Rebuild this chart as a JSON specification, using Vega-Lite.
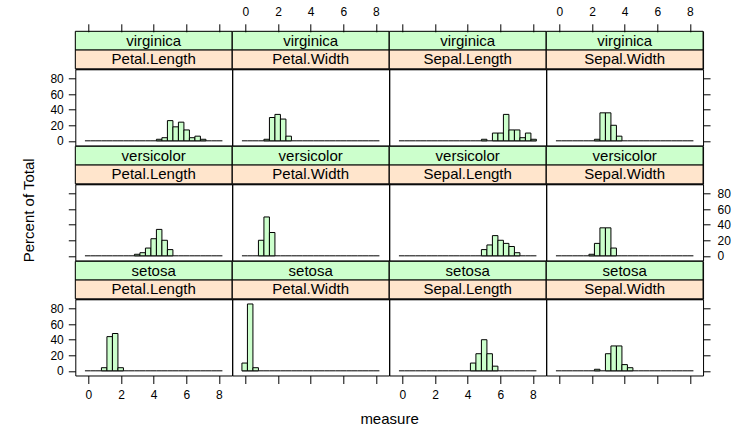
{
"$schema": "https://vega.github.io/schema/vega-lite/v6.json",
"autosize": {"type": "none"},
"padding": {"left": 75.3, "top": 31.3, "right": 664.7, "bottom": 395.7},
"background": "white",
"datasets": {
"panels": [
{"species":"virginica","measure":"Petal.Length"},{"species":"virginica","measure":"Petal.Width"},{"species":"virginica","measure":"Sepal.Length"},{"species":"virginica","measure":"Sepal.Width"},
{"species":"versicolor","measure":"Petal.Length"},{"species":"versicolor","measure":"Petal.Width"},{"species":"versicolor","measure":"Sepal.Length"},{"species":"versicolor","measure":"Sepal.Width"},
{"species":"setosa","measure":"Petal.Length"},{"species":"setosa","measure":"Petal.Width"},{"species":"setosa","measure":"Sepal.Length"},{"species":"setosa","measure":"Sepal.Width"}
],
"bins": [
{"lo":-0.212,"hi":0.125},{"lo":0.125,"hi":0.462},{"lo":0.462,"hi":0.799},{"lo":0.799,"hi":1.136},{"lo":1.136,"hi":1.473},
{"lo":1.473,"hi":1.81},{"lo":1.81,"hi":2.147},{"lo":2.147,"hi":2.484},{"lo":2.484,"hi":2.821},{"lo":2.821,"hi":3.158},
{"lo":3.158,"hi":3.495},{"lo":3.495,"hi":3.832},{"lo":3.832,"hi":4.168},{"lo":4.168,"hi":4.505},{"lo":4.505,"hi":4.842},
{"lo":4.842,"hi":5.179},{"lo":5.179,"hi":5.516},{"lo":5.516,"hi":5.853},{"lo":5.853,"hi":6.19},{"lo":6.19,"hi":6.527},
{"lo":6.527,"hi":6.864},{"lo":6.864,"hi":7.201},{"lo":7.201,"hi":7.538},{"lo":7.538,"hi":7.875},{"lo":7.875,"hi":8.212}
],
"hist": [
{"species":"setosa","measure":"Petal.Length","lo":0.799,"hi":1.136,"pct":4},
{"species":"setosa","measure":"Petal.Length","lo":1.136,"hi":1.473,"pct":44},
{"species":"setosa","measure":"Petal.Length","lo":1.473,"hi":1.81,"pct":48},
{"species":"setosa","measure":"Petal.Length","lo":1.81,"hi":2.147,"pct":4},
{"species":"setosa","measure":"Petal.Width","lo":-0.212,"hi":0.125,"pct":10},
{"species":"setosa","measure":"Petal.Width","lo":0.125,"hi":0.462,"pct":86},
{"species":"setosa","measure":"Petal.Width","lo":0.462,"hi":0.799,"pct":4},
{"species":"setosa","measure":"Sepal.Length","lo":4.168,"hi":4.505,"pct":10},
{"species":"setosa","measure":"Sepal.Length","lo":4.505,"hi":4.842,"pct":22},
{"species":"setosa","measure":"Sepal.Length","lo":4.842,"hi":5.179,"pct":40},
{"species":"setosa","measure":"Sepal.Length","lo":5.179,"hi":5.516,"pct":22},
{"species":"setosa","measure":"Sepal.Length","lo":5.516,"hi":5.853,"pct":6},
{"species":"setosa","measure":"Sepal.Width","lo":2.147,"hi":2.484,"pct":2},
{"species":"setosa","measure":"Sepal.Width","lo":2.821,"hi":3.158,"pct":22},
{"species":"setosa","measure":"Sepal.Width","lo":3.158,"hi":3.495,"pct":32},
{"species":"setosa","measure":"Sepal.Width","lo":3.495,"hi":3.832,"pct":32},
{"species":"setosa","measure":"Sepal.Width","lo":3.832,"hi":4.168,"pct":8},
{"species":"setosa","measure":"Sepal.Width","lo":4.168,"hi":4.505,"pct":4},
{"species":"versicolor","measure":"Petal.Length","lo":2.821,"hi":3.158,"pct":2},
{"species":"versicolor","measure":"Petal.Length","lo":3.158,"hi":3.495,"pct":4},
{"species":"versicolor","measure":"Petal.Length","lo":3.495,"hi":3.832,"pct":10},
{"species":"versicolor","measure":"Petal.Length","lo":3.832,"hi":4.168,"pct":22},
{"species":"versicolor","measure":"Petal.Length","lo":4.168,"hi":4.505,"pct":34},
{"species":"versicolor","measure":"Petal.Length","lo":4.505,"hi":4.842,"pct":20},
{"species":"versicolor","measure":"Petal.Length","lo":4.842,"hi":5.179,"pct":8},
{"species":"versicolor","measure":"Petal.Width","lo":0.799,"hi":1.136,"pct":20},
{"species":"versicolor","measure":"Petal.Width","lo":1.136,"hi":1.473,"pct":50},
{"species":"versicolor","measure":"Petal.Width","lo":1.473,"hi":1.81,"pct":30},
{"species":"versicolor","measure":"Sepal.Length","lo":4.842,"hi":5.179,"pct":8},
{"species":"versicolor","measure":"Sepal.Length","lo":5.179,"hi":5.516,"pct":14},
{"species":"versicolor","measure":"Sepal.Length","lo":5.516,"hi":5.853,"pct":26},
{"species":"versicolor","measure":"Sepal.Length","lo":5.853,"hi":6.19,"pct":20},
{"species":"versicolor","measure":"Sepal.Length","lo":6.19,"hi":6.527,"pct":16},
{"species":"versicolor","measure":"Sepal.Length","lo":6.527,"hi":6.864,"pct":12},
{"species":"versicolor","measure":"Sepal.Length","lo":6.864,"hi":7.201,"pct":4},
{"species":"versicolor","measure":"Sepal.Width","lo":1.81,"hi":2.147,"pct":2},
{"species":"versicolor","measure":"Sepal.Width","lo":2.147,"hi":2.484,"pct":16},
{"species":"versicolor","measure":"Sepal.Width","lo":2.484,"hi":2.821,"pct":36},
{"species":"versicolor","measure":"Sepal.Width","lo":2.821,"hi":3.158,"pct":36},
{"species":"versicolor","measure":"Sepal.Width","lo":3.158,"hi":3.495,"pct":10},
{"species":"virginica","measure":"Petal.Length","lo":4.168,"hi":4.505,"pct":2},
{"species":"virginica","measure":"Petal.Length","lo":4.505,"hi":4.842,"pct":4},
{"species":"virginica","measure":"Petal.Length","lo":4.842,"hi":5.179,"pct":26},
{"species":"virginica","measure":"Petal.Length","lo":5.179,"hi":5.516,"pct":18},
{"species":"virginica","measure":"Petal.Length","lo":5.516,"hi":5.853,"pct":24},
{"species":"virginica","measure":"Petal.Length","lo":5.853,"hi":6.19,"pct":14},
{"species":"virginica","measure":"Petal.Length","lo":6.19,"hi":6.527,"pct":4},
{"species":"virginica","measure":"Petal.Length","lo":6.527,"hi":6.864,"pct":6},
{"species":"virginica","measure":"Petal.Length","lo":6.864,"hi":7.201,"pct":2},
{"species":"virginica","measure":"Petal.Width","lo":1.136,"hi":1.473,"pct":2},
{"species":"virginica","measure":"Petal.Width","lo":1.473,"hi":1.81,"pct":30},
{"species":"virginica","measure":"Petal.Width","lo":1.81,"hi":2.147,"pct":34},
{"species":"virginica","measure":"Petal.Width","lo":2.147,"hi":2.484,"pct":28},
{"species":"virginica","measure":"Petal.Width","lo":2.484,"hi":2.821,"pct":6},
{"species":"virginica","measure":"Sepal.Length","lo":4.842,"hi":5.179,"pct":2},
{"species":"virginica","measure":"Sepal.Length","lo":5.516,"hi":5.853,"pct":10},
{"species":"virginica","measure":"Sepal.Length","lo":5.853,"hi":6.19,"pct":10},
{"species":"virginica","measure":"Sepal.Length","lo":6.19,"hi":6.527,"pct":34},
{"species":"virginica","measure":"Sepal.Length","lo":6.527,"hi":6.864,"pct":14},
{"species":"virginica","measure":"Sepal.Length","lo":6.864,"hi":7.201,"pct":14},
{"species":"virginica","measure":"Sepal.Length","lo":7.201,"hi":7.538,"pct":4},
{"species":"virginica","measure":"Sepal.Length","lo":7.538,"hi":7.875,"pct":10},
{"species":"virginica","measure":"Sepal.Length","lo":7.875,"hi":8.212,"pct":2},
{"species":"virginica","measure":"Sepal.Width","lo":2.147,"hi":2.484,"pct":2},
{"species":"virginica","measure":"Sepal.Width","lo":2.484,"hi":2.821,"pct":36},
{"species":"virginica","measure":"Sepal.Width","lo":2.821,"hi":3.158,"pct":36},
{"species":"virginica","measure":"Sepal.Width","lo":3.158,"hi":3.495,"pct":20},
{"species":"virginica","measure":"Sepal.Width","lo":3.495,"hi":3.832,"pct":6}
]
},
"columns": 4,
"spacing": 0,
"bounds": "flush",
"align": "each",
"concat": [
 {"width":156.75,"height":37.5,"data":{"name":"panels"},"transform":[{"filter":"datum.species==='virginica' && datum.measure==='Petal.Length'"},{"fold":["species","measure"]}],
  "encoding":{"y":{"field":"key","type":"nominal","sort":["species","measure"],"axis":null,"scale":{"paddingInner":0,"paddingOuter":0}}},
  "layer":[{"mark":{"type":"rect","stroke":"black","strokeWidth":1},"encoding":{"fill":{"field":"key","type":"nominal","scale":{"domain":["species","measure"],"range":["#CCFFCC","#FFE5CC"]},"legend":null}}},
           {"mark":{"type":"text"},"encoding":{"text":{"field":"value","type":"nominal"}}}]},
 {"width":156.75,"height":37.5,"data":{"name":"panels"},"transform":[{"filter":"datum.species==='virginica' && datum.measure==='Petal.Width'"},{"fold":["species","measure"]}],
  "encoding":{"y":{"field":"key","type":"nominal","sort":["species","measure"],"axis":null,"scale":{"paddingInner":0,"paddingOuter":0}}},
  "layer":[{"mark":{"type":"rect","stroke":"black","strokeWidth":1},"encoding":{"fill":{"field":"key","type":"nominal","scale":{"domain":["species","measure"],"range":["#CCFFCC","#FFE5CC"]},"legend":null}}},
           {"mark":{"type":"text"},"encoding":{"text":{"field":"value","type":"nominal"}}}]},
 {"width":156.75,"height":37.5,"data":{"name":"panels"},"transform":[{"filter":"datum.species==='virginica' && datum.measure==='Sepal.Length'"},{"fold":["species","measure"]}],
  "encoding":{"y":{"field":"key","type":"nominal","sort":["species","measure"],"axis":null,"scale":{"paddingInner":0,"paddingOuter":0}}},
  "layer":[{"mark":{"type":"rect","stroke":"black","strokeWidth":1},"encoding":{"fill":{"field":"key","type":"nominal","scale":{"domain":["species","measure"],"range":["#CCFFCC","#FFE5CC"]},"legend":null}}},
           {"mark":{"type":"text"},"encoding":{"text":{"field":"value","type":"nominal"}}}]},
 {"width":156.75,"height":37.5,"data":{"name":"panels"},"transform":[{"filter":"datum.species==='virginica' && datum.measure==='Sepal.Width'"},{"fold":["species","measure"]}],
  "encoding":{"y":{"field":"key","type":"nominal","sort":["species","measure"],"axis":null,"scale":{"paddingInner":0,"paddingOuter":0}}},
  "layer":[{"mark":{"type":"rect","stroke":"black","strokeWidth":1},"encoding":{"fill":{"field":"key","type":"nominal","scale":{"domain":["species","measure"],"range":["#CCFFCC","#FFE5CC"]},"legend":null}}},
           {"mark":{"type":"text"},"encoding":{"text":{"field":"value","type":"nominal"}}}]},

 {"width":156.75,"height":76.2,
  "encoding":{"x":{"field":"lo","type":"quantitative","scale":{"domain":[-0.802,8.802],"nice":false,"zero":false},"axis":{"orient":"top","offset":37.5,"values":[0,2,4,6,8],"labels":false,"title":null,"tickSize":8}},"x2":{"field":"hi"}},
  "layer":[
   {"data":{"name":"bins"},"mark":{"type":"rule","color":"black"},"encoding":{"y":{"datum":0,"type":"quantitative","scale":{"domain":[-6.02,92.02],"nice":false,"zero":false},"axis":{"orient":"left","values":[0,20,40,60,80],"title":null}}}},
   {"data":{"name":"hist"},"transform":[{"filter":"datum.species==='virginica' && datum.measure==='Petal.Length'"}],"mark":{"type":"rect","fill":"#CCFFCC","stroke":"black","strokeWidth":1},
    "encoding":{"y":{"field":"pct","type":"quantitative","scale":{"domain":[-6.02,92.02],"nice":false,"zero":false},"axis":{"orient":"left","values":[0,20,40,60,80],"title":null}},"y2":{"datum":0}}}]},
 {"width":156.75,"height":76.2,
  "encoding":{"x":{"field":"lo","type":"quantitative","scale":{"domain":[-0.802,8.802],"nice":false,"zero":false},"axis":{"orient":"top","offset":37.5,"values":[0,2,4,6,8],"labels":true,"title":null,"tickSize":8,"labelPadding":5}},"x2":{"field":"hi"}},
  "layer":[
   {"data":{"name":"bins"},"mark":{"type":"rule","color":"black"},"encoding":{"y":{"datum":0,"type":"quantitative","scale":{"domain":[-6.02,92.02],"nice":false,"zero":false},"axis":null}}},
   {"data":{"name":"hist"},"transform":[{"filter":"datum.species==='virginica' && datum.measure==='Petal.Width'"}],"mark":{"type":"rect","fill":"#CCFFCC","stroke":"black","strokeWidth":1},
    "encoding":{"y":{"field":"pct","type":"quantitative","scale":{"domain":[-6.02,92.02],"nice":false,"zero":false},"axis":null},"y2":{"datum":0}}}]},
 {"width":156.75,"height":76.2,
  "encoding":{"x":{"field":"lo","type":"quantitative","scale":{"domain":[-0.802,8.802],"nice":false,"zero":false},"axis":{"orient":"top","offset":37.5,"values":[0,2,4,6,8],"labels":false,"title":null,"tickSize":8}},"x2":{"field":"hi"}},
  "layer":[
   {"data":{"name":"bins"},"mark":{"type":"rule","color":"black"},"encoding":{"y":{"datum":0,"type":"quantitative","scale":{"domain":[-6.02,92.02],"nice":false,"zero":false},"axis":null}}},
   {"data":{"name":"hist"},"transform":[{"filter":"datum.species==='virginica' && datum.measure==='Sepal.Length'"}],"mark":{"type":"rect","fill":"#CCFFCC","stroke":"black","strokeWidth":1},
    "encoding":{"y":{"field":"pct","type":"quantitative","scale":{"domain":[-6.02,92.02],"nice":false,"zero":false},"axis":null},"y2":{"datum":0}}}]},
 {"width":156.75,"height":76.2,
  "encoding":{"x":{"field":"lo","type":"quantitative","scale":{"domain":[-0.802,8.802],"nice":false,"zero":false},"axis":{"orient":"top","offset":37.5,"values":[0,2,4,6,8],"labels":true,"title":null,"tickSize":8,"labelPadding":5}},"x2":{"field":"hi"}},
  "layer":[
   {"data":{"name":"bins"},"mark":{"type":"rule","color":"black"},"encoding":{"y":{"datum":0,"type":"quantitative","scale":{"domain":[-6.02,92.02],"nice":false,"zero":false},"axis":{"orient":"right","values":[0,20,40,60,80],"labels":false,"title":null}}}},
   {"data":{"name":"hist"},"transform":[{"filter":"datum.species==='virginica' && datum.measure==='Sepal.Width'"}],"mark":{"type":"rect","fill":"#CCFFCC","stroke":"black","strokeWidth":1},
    "encoding":{"y":{"field":"pct","type":"quantitative","scale":{"domain":[-6.02,92.02],"nice":false,"zero":false},"axis":{"orient":"right","values":[0,20,40,60,80],"labels":false,"title":null}},"y2":{"datum":0}}}]},

 {"width":156.75,"height":37.5,"data":{"name":"panels"},"transform":[{"filter":"datum.species==='versicolor' && datum.measure==='Petal.Length'"},{"fold":["species","measure"]}],
  "encoding":{"y":{"field":"key","type":"nominal","sort":["species","measure"],"axis":null,"scale":{"paddingInner":0,"paddingOuter":0}}},
  "layer":[{"mark":{"type":"rect","stroke":"black","strokeWidth":1},"encoding":{"fill":{"field":"key","type":"nominal","scale":{"domain":["species","measure"],"range":["#CCFFCC","#FFE5CC"]},"legend":null}}},
           {"mark":{"type":"text"},"encoding":{"text":{"field":"value","type":"nominal"}}}]},
 {"width":156.75,"height":37.5,"data":{"name":"panels"},"transform":[{"filter":"datum.species==='versicolor' && datum.measure==='Petal.Width'"},{"fold":["species","measure"]}],
  "encoding":{"y":{"field":"key","type":"nominal","sort":["species","measure"],"axis":null,"scale":{"paddingInner":0,"paddingOuter":0}}},
  "layer":[{"mark":{"type":"rect","stroke":"black","strokeWidth":1},"encoding":{"fill":{"field":"key","type":"nominal","scale":{"domain":["species","measure"],"range":["#CCFFCC","#FFE5CC"]},"legend":null}}},
           {"mark":{"type":"text"},"encoding":{"text":{"field":"value","type":"nominal"}}}]},
 {"width":156.75,"height":37.5,"data":{"name":"panels"},"transform":[{"filter":"datum.species==='versicolor' && datum.measure==='Sepal.Length'"},{"fold":["species","measure"]}],
  "encoding":{"y":{"field":"key","type":"nominal","sort":["species","measure"],"axis":null,"scale":{"paddingInner":0,"paddingOuter":0}}},
  "layer":[{"mark":{"type":"rect","stroke":"black","strokeWidth":1},"encoding":{"fill":{"field":"key","type":"nominal","scale":{"domain":["species","measure"],"range":["#CCFFCC","#FFE5CC"]},"legend":null}}},
           {"mark":{"type":"text"},"encoding":{"text":{"field":"value","type":"nominal"}}}]},
 {"width":156.75,"height":37.5,"data":{"name":"panels"},"transform":[{"filter":"datum.species==='versicolor' && datum.measure==='Sepal.Width'"},{"fold":["species","measure"]}],
  "encoding":{"y":{"field":"key","type":"nominal","sort":["species","measure"],"axis":null,"scale":{"paddingInner":0,"paddingOuter":0}}},
  "layer":[{"mark":{"type":"rect","stroke":"black","strokeWidth":1},"encoding":{"fill":{"field":"key","type":"nominal","scale":{"domain":["species","measure"],"range":["#CCFFCC","#FFE5CC"]},"legend":null}}},
           {"mark":{"type":"text"},"encoding":{"text":{"field":"value","type":"nominal"}}}]},

 {"width":156.75,"height":76.2,
  "encoding":{"x":{"field":"lo","type":"quantitative","scale":{"domain":[-0.802,8.802],"nice":false,"zero":false},"axis":null},"x2":{"field":"hi"}},
  "layer":[
   {"data":{"name":"bins"},"mark":{"type":"rule","color":"black"},"encoding":{"y":{"datum":0,"type":"quantitative","scale":{"domain":[-6.02,92.02],"nice":false,"zero":false},"axis":{"orient":"left","values":[0,20,40,60,80],"labels":false,"title":"Percent of Total","titleX":-42,"titleY":25.5,"titleBaseline":"alphabetic","titleAngle":270}}}},
   {"data":{"name":"hist"},"transform":[{"filter":"datum.species==='versicolor' && datum.measure==='Petal.Length'"}],"mark":{"type":"rect","fill":"#CCFFCC","stroke":"black","strokeWidth":1},
    "encoding":{"y":{"field":"pct","type":"quantitative","scale":{"domain":[-6.02,92.02],"nice":false,"zero":false},"axis":{"orient":"left","values":[0,20,40,60,80],"labels":false,"title":"Percent of Total","titleX":-42,"titleY":25.5,"titleBaseline":"alphabetic","titleAngle":270}},"y2":{"datum":0}}}]},
 {"width":156.75,"height":76.2,
  "encoding":{"x":{"field":"lo","type":"quantitative","scale":{"domain":[-0.802,8.802],"nice":false,"zero":false},"axis":null},"x2":{"field":"hi"}},
  "layer":[
   {"data":{"name":"bins"},"mark":{"type":"rule","color":"black"},"encoding":{"y":{"datum":0,"type":"quantitative","scale":{"domain":[-6.02,92.02],"nice":false,"zero":false},"axis":null}}},
   {"data":{"name":"hist"},"transform":[{"filter":"datum.species==='versicolor' && datum.measure==='Petal.Width'"}],"mark":{"type":"rect","fill":"#CCFFCC","stroke":"black","strokeWidth":1},
    "encoding":{"y":{"field":"pct","type":"quantitative","scale":{"domain":[-6.02,92.02],"nice":false,"zero":false},"axis":null},"y2":{"datum":0}}}]},
 {"width":156.75,"height":76.2,
  "encoding":{"x":{"field":"lo","type":"quantitative","scale":{"domain":[-0.802,8.802],"nice":false,"zero":false},"axis":null},"x2":{"field":"hi"}},
  "layer":[
   {"data":{"name":"bins"},"mark":{"type":"rule","color":"black"},"encoding":{"y":{"datum":0,"type":"quantitative","scale":{"domain":[-6.02,92.02],"nice":false,"zero":false},"axis":null}}},
   {"data":{"name":"hist"},"transform":[{"filter":"datum.species==='versicolor' && datum.measure==='Sepal.Length'"}],"mark":{"type":"rect","fill":"#CCFFCC","stroke":"black","strokeWidth":1},
    "encoding":{"y":{"field":"pct","type":"quantitative","scale":{"domain":[-6.02,92.02],"nice":false,"zero":false},"axis":null},"y2":{"datum":0}}}]},
 {"width":156.75,"height":76.2,
  "encoding":{"x":{"field":"lo","type":"quantitative","scale":{"domain":[-0.802,8.802],"nice":false,"zero":false},"axis":null},"x2":{"field":"hi"}},
  "layer":[
   {"data":{"name":"bins"},"mark":{"type":"rule","color":"black"},"encoding":{"y":{"datum":0,"type":"quantitative","scale":{"domain":[-6.02,92.02],"nice":false,"zero":false},"axis":{"orient":"right","values":[0,20,40,60,80],"title":null,"labelPadding":7}}}},
   {"data":{"name":"hist"},"transform":[{"filter":"datum.species==='versicolor' && datum.measure==='Sepal.Width'"}],"mark":{"type":"rect","fill":"#CCFFCC","stroke":"black","strokeWidth":1},
    "encoding":{"y":{"field":"pct","type":"quantitative","scale":{"domain":[-6.02,92.02],"nice":false,"zero":false},"axis":{"orient":"right","values":[0,20,40,60,80],"title":null,"labelPadding":7}},"y2":{"datum":0}}}]},

 {"width":156.75,"height":37.5,"data":{"name":"panels"},"transform":[{"filter":"datum.species==='setosa' && datum.measure==='Petal.Length'"},{"fold":["species","measure"]}],
  "encoding":{"y":{"field":"key","type":"nominal","sort":["species","measure"],"axis":null,"scale":{"paddingInner":0,"paddingOuter":0}}},
  "layer":[{"mark":{"type":"rect","stroke":"black","strokeWidth":1},"encoding":{"fill":{"field":"key","type":"nominal","scale":{"domain":["species","measure"],"range":["#CCFFCC","#FFE5CC"]},"legend":null}}},
           {"mark":{"type":"text"},"encoding":{"text":{"field":"value","type":"nominal"}}}]},
 {"width":156.75,"height":37.5,"data":{"name":"panels"},"transform":[{"filter":"datum.species==='setosa' && datum.measure==='Petal.Width'"},{"fold":["species","measure"]}],
  "encoding":{"y":{"field":"key","type":"nominal","sort":["species","measure"],"axis":null,"scale":{"paddingInner":0,"paddingOuter":0}}},
  "layer":[{"mark":{"type":"rect","stroke":"black","strokeWidth":1},"encoding":{"fill":{"field":"key","type":"nominal","scale":{"domain":["species","measure"],"range":["#CCFFCC","#FFE5CC"]},"legend":null}}},
           {"mark":{"type":"text"},"encoding":{"text":{"field":"value","type":"nominal"}}}]},
 {"width":156.75,"height":37.5,"data":{"name":"panels"},"transform":[{"filter":"datum.species==='setosa' && datum.measure==='Sepal.Length'"},{"fold":["species","measure"]}],
  "encoding":{"y":{"field":"key","type":"nominal","sort":["species","measure"],"axis":null,"scale":{"paddingInner":0,"paddingOuter":0}}},
  "layer":[{"mark":{"type":"rect","stroke":"black","strokeWidth":1},"encoding":{"fill":{"field":"key","type":"nominal","scale":{"domain":["species","measure"],"range":["#CCFFCC","#FFE5CC"]},"legend":null}}},
           {"mark":{"type":"text"},"encoding":{"text":{"field":"value","type":"nominal"}}}]},
 {"width":156.75,"height":37.5,"data":{"name":"panels"},"transform":[{"filter":"datum.species==='setosa' && datum.measure==='Sepal.Width'"},{"fold":["species","measure"]}],
  "encoding":{"y":{"field":"key","type":"nominal","sort":["species","measure"],"axis":null,"scale":{"paddingInner":0,"paddingOuter":0}}},
  "layer":[{"mark":{"type":"rect","stroke":"black","strokeWidth":1},"encoding":{"fill":{"field":"key","type":"nominal","scale":{"domain":["species","measure"],"range":["#CCFFCC","#FFE5CC"]},"legend":null}}},
           {"mark":{"type":"text"},"encoding":{"text":{"field":"value","type":"nominal"}}}]},

 {"width":156.75,"height":76.2,
  "encoding":{"x":{"field":"lo","type":"quantitative","scale":{"domain":[-0.802,8.802],"nice":false,"zero":false},"axis":{"orient":"bottom","values":[0,2,4,6,8],"title":null,"tickSize":8,"labelPadding":6}},"x2":{"field":"hi"}},
  "layer":[
   {"data":{"name":"bins"},"mark":{"type":"rule","color":"black"},"encoding":{"y":{"datum":0,"type":"quantitative","scale":{"domain":[-6.02,92.02],"nice":false,"zero":false},"axis":{"orient":"left","values":[0,20,40,60,80],"title":null}}}},
   {"data":{"name":"hist"},"transform":[{"filter":"datum.species==='setosa' && datum.measure==='Petal.Length'"}],"mark":{"type":"rect","fill":"#CCFFCC","stroke":"black","strokeWidth":1},
    "encoding":{"y":{"field":"pct","type":"quantitative","scale":{"domain":[-6.02,92.02],"nice":false,"zero":false},"axis":{"orient":"left","values":[0,20,40,60,80],"title":null}},"y2":{"datum":0}}}]},
 {"width":156.75,"height":76.2,
  "encoding":{"x":{"field":"lo","type":"quantitative","scale":{"domain":[-0.802,8.802],"nice":false,"zero":false},"axis":{"orient":"bottom","values":[0,2,4,6,8],"labels":false,"tickSize":8,"title":"measure","titleX":156.75,"titleY":48.3,"titleBaseline":"alphabetic"}},"x2":{"field":"hi"}},
  "layer":[
   {"data":{"name":"bins"},"mark":{"type":"rule","color":"black"},"encoding":{"y":{"datum":0,"type":"quantitative","scale":{"domain":[-6.02,92.02],"nice":false,"zero":false},"axis":null}}},
   {"data":{"name":"hist"},"transform":[{"filter":"datum.species==='setosa' && datum.measure==='Petal.Width'"}],"mark":{"type":"rect","fill":"#CCFFCC","stroke":"black","strokeWidth":1},
    "encoding":{"y":{"field":"pct","type":"quantitative","scale":{"domain":[-6.02,92.02],"nice":false,"zero":false},"axis":null},"y2":{"datum":0}}}]},
 {"width":156.75,"height":76.2,
  "encoding":{"x":{"field":"lo","type":"quantitative","scale":{"domain":[-0.802,8.802],"nice":false,"zero":false},"axis":{"orient":"bottom","values":[0,2,4,6,8],"title":null,"tickSize":8,"labelPadding":6}},"x2":{"field":"hi"}},
  "layer":[
   {"data":{"name":"bins"},"mark":{"type":"rule","color":"black"},"encoding":{"y":{"datum":0,"type":"quantitative","scale":{"domain":[-6.02,92.02],"nice":false,"zero":false},"axis":null}}},
   {"data":{"name":"hist"},"transform":[{"filter":"datum.species==='setosa' && datum.measure==='Sepal.Length'"}],"mark":{"type":"rect","fill":"#CCFFCC","stroke":"black","strokeWidth":1},
    "encoding":{"y":{"field":"pct","type":"quantitative","scale":{"domain":[-6.02,92.02],"nice":false,"zero":false},"axis":null},"y2":{"datum":0}}}]},
 {"width":156.75,"height":76.2,
  "encoding":{"x":{"field":"lo","type":"quantitative","scale":{"domain":[-0.802,8.802],"nice":false,"zero":false},"axis":{"orient":"bottom","values":[0,2,4,6,8],"labels":false,"title":null,"tickSize":8}},"x2":{"field":"hi"}},
  "layer":[
   {"data":{"name":"bins"},"mark":{"type":"rule","color":"black"},"encoding":{"y":{"datum":0,"type":"quantitative","scale":{"domain":[-6.02,92.02],"nice":false,"zero":false},"axis":{"orient":"right","values":[0,20,40,60,80],"labels":false,"title":null}}}},
   {"data":{"name":"hist"},"transform":[{"filter":"datum.species==='setosa' && datum.measure==='Sepal.Width'"}],"mark":{"type":"rect","fill":"#CCFFCC","stroke":"black","strokeWidth":1},
    "encoding":{"y":{"field":"pct","type":"quantitative","scale":{"domain":[-6.02,92.02],"nice":false,"zero":false},"axis":{"orient":"right","values":[0,20,40,60,80],"labels":false,"title":null}},"y2":{"datum":0}}}]}
],
"config": {
 "view": {"stroke": "black", "strokeWidth": 1},
 "axis": {"domain": false, "grid": false, "tickColor": "black", "tickWidth": 1, "tickSize": 7, "labelFont": "Liberation Sans", "labelFontSize": 12, "labelColor": "black", "labelPadding": 5, "titleFont": "Liberation Sans", "titleFontSize": 15, "titleFontWeight": "normal", "titleColor": "black"},
 "text": {"font": "Liberation Sans", "fontSize": 15, "color": "black"}
}
}
